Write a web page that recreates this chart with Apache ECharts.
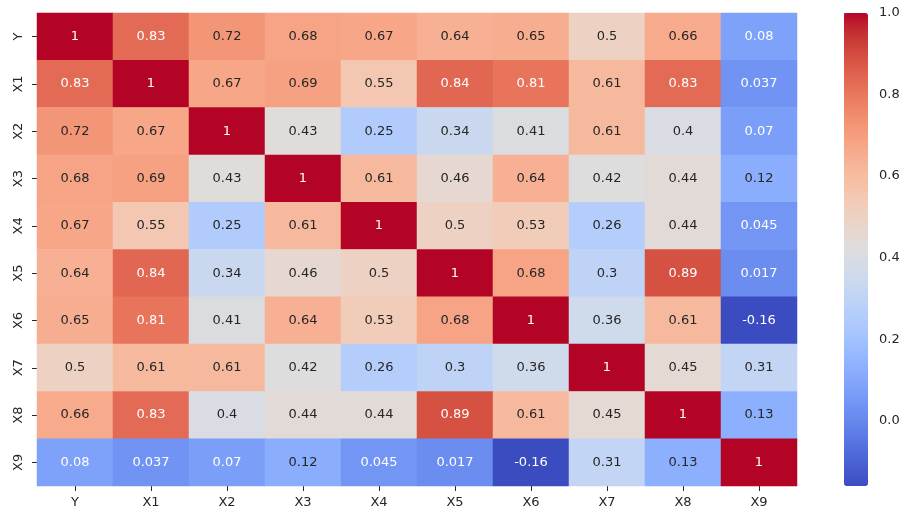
<!DOCTYPE html>
<html>
<head>
<meta charset="utf-8">
<script src="https://cdn.jsdelivr.net/npm/echarts@6/dist/echarts.min.js"></script>
<style>html,body{margin:0;padding:0;background:#fff}#c{width:902px;height:508px}</style>
</head>
<body>
<div id="c"></div>
<script>
var labels = ['Y','X1','X2','X3','X4','X5','X6','X7','X8','X9'];
var rowY  = [1, 0.83, 0.72, 0.68, 0.67, 0.64, 0.65, 0.5, 0.66, 0.08];
var rowX1 = [0.83, 1, 0.67, 0.69, 0.55, 0.84, 0.81, 0.61, 0.83, 0.037];
var rowX2 = [0.72, 0.67, 1, 0.43, 0.25, 0.34, 0.41, 0.61, 0.4, 0.07];
var rowX3 = [0.68, 0.69, 0.43, 1, 0.61, 0.46, 0.64, 0.42, 0.44, 0.12];
var rowX4 = [0.67, 0.55, 0.25, 0.61, 1, 0.5, 0.53, 0.26, 0.44, 0.045];
var rowX5 = [0.64, 0.84, 0.34, 0.46, 0.5, 1, 0.68, 0.3, 0.89, 0.017];
var rowX6 = [0.65, 0.81, 0.41, 0.64, 0.53, 0.68, 1, 0.36, 0.61, -0.16];
var rowX7 = [0.5, 0.61, 0.61, 0.42, 0.26, 0.3, 0.36, 1, 0.45, 0.31];
var rowX8 = [0.66, 0.83, 0.4, 0.44, 0.44, 0.89, 0.61, 0.45, 1, 0.13];
var rowX9 = [0.08, 0.037, 0.07, 0.12, 0.045, 0.017, -0.16, 0.31, 0.13, 1];
var rows = [rowY,rowX1,rowX2,rowX3,rowX4,rowX5,rowX6,rowX7,rowX8,rowX9];
var colorbarTicks = [0, 0.2, 0.4, 0.6, 0.8, 1.0];
var vMin = -0.16, vMax = 1.0;

// matplotlib coolwarm (33 stops)
var cw = [[59,76,192],[68,90,204],[77,104,215],[87,117,225],[98,130,234],[108,142,241],[119,154,247],[130,165,251],[141,176,254],[152,185,255],[163,194,255],[174,201,253],[184,208,249],[194,213,244],[204,217,238],[213,219,230],[221,221,221],[229,216,209],[236,211,197],[241,204,185],[245,196,173],[247,187,160],[247,177,148],[247,166,135],[244,154,123],[241,141,111],[236,127,99],[229,112,88],[222,96,77],[213,80,66],[203,62,56],[192,40,47],[180,4,38]];
function toHex(c){return '#'+c.map(function(v){var h=Math.round(v).toString(16);return h.length<2?'0'+h:h;}).join('');}
var cwHex = cw.map(toHex);
function cmap(v){
  var t=(v-vMin)/(vMax-vMin); t=Math.max(0,Math.min(1,t));
  var p=t*(cw.length-1), i=Math.min(Math.floor(p),cw.length-2), f=p-i;
  return [0,1,2].map(function(k){return cw[i][k]+(cw[i+1][k]-cw[i][k])*f;});
}
function lum(c){
  var l=c.map(function(x){x/=255;return x<=0.03928?x/12.92:Math.pow((x+0.055)/1.055,2.4);});
  return 0.2126*l[0]+0.7152*l[1]+0.0722*l[2];
}
var data=[];
rows.forEach(function(r,yi){
  r.forEach(function(v,xi){
    var dark = lum(cmap(v)) > 0.408;
    data.push({value:[xi,yi,v],label:{color: dark ? '#262626' : '#ffffff'}});
  });
});
var txt='#262626';
var font='DejaVu Sans';
var chart=echarts.init(document.getElementById('c'));
chart.setOption({
  animation:false,
  textStyle:{fontFamily:font},
  grid:[{left:37,top:13,width:760,height:473,containLabel:false,outerBoundsMode:'none'},
        {left:844,top:13,width:24,height:473,containLabel:false,outerBoundsMode:'none'}],
  xAxis:[
    {type:'category',data:labels,gridIndex:0,position:'bottom',
     axisLine:{show:false},axisTick:{show:true,alignWithLabel:true,length:5,lineStyle:{color:txt}},
     axisLabel:{color:txt,fontSize:13,fontFamily:font,margin:10},splitArea:{show:false}},
    {type:'value',gridIndex:1,show:false,min:0,max:1}
  ],
  yAxis:[
    {type:'category',data:labels,gridIndex:0,inverse:true,
     axisLine:{show:false},axisTick:{show:true,alignWithLabel:true,length:5,lineStyle:{color:txt}},
     axisLabel:{color:txt,fontSize:13,fontFamily:font,rotate:90,margin:12},splitArea:{show:false}},
    {type:'value',gridIndex:1,position:'right',min:vMin,max:vMax,
     axisLine:{show:false},splitLine:{show:false},
     axisTick:{show:true,length:5,customValues:colorbarTicks,lineStyle:{color:txt}},
     axisLabel:{color:txt,fontSize:13,fontFamily:font,margin:11,customValues:colorbarTicks,
       formatter:function(v){return v.toFixed(1);}}}
  ],
  visualMap:{type:'continuous',min:vMin,max:vMax,calculable:false,orient:'vertical',
    left:844,top:13,itemWidth:24,itemHeight:473,padding:0,seriesIndex:0,
    inRange:{color:cwHex},text:null,showLabel:false,hoverLink:false},
  series:[{type:'heatmap',xAxisIndex:0,yAxisIndex:0,data:data,
    label:{show:true,fontSize:13,fontFamily:font,formatter:function(p){return String(p.value[2]);}},
    itemStyle:{borderWidth:0},emphasis:{disabled:true}}]
});
</script>
</body>
</html>
